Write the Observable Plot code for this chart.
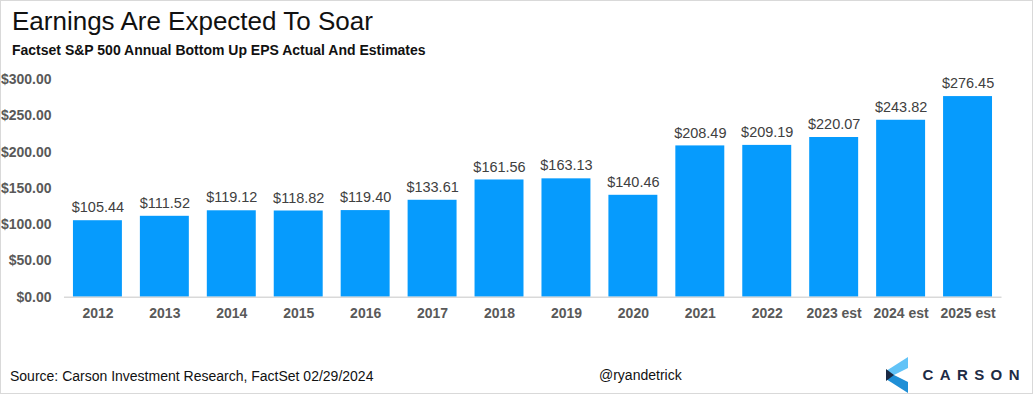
<!DOCTYPE html>
<html>
<head>
<meta charset="utf-8">
<script src="https://cdn.jsdelivr.net/npm/d3@7"></script>
<script src="https://cdn.jsdelivr.net/npm/@observablehq/plot@0.6"></script>
<style>
  html, body { margin: 0; padding: 0; background: #fff; }
  #wrap { position: relative; width: 1033px; height: 394px; box-sizing: border-box; border: 1px solid #d9d9d9; font-family: "Liberation Sans", Arial, sans-serif; overflow: hidden; }
  #title { position: absolute; left: 11px; top: 5px; font-size: 26px; color: #111; white-space: nowrap; }
  #subtitle { position: absolute; left: 11px; top: 41px; font-size: 14px; font-weight: bold; color: #111; white-space: nowrap; }
  #chart { position: absolute; left: -1px; top: 59px; }
  #source { position: absolute; left: 9px; top: 367px; font-size: 14px; color: #111; white-space: nowrap; }
  #handle { position: absolute; left: 598px; top: 366px; font-size: 14px; color: #111; white-space: nowrap; }
  #logo { position: absolute; left: 884px; top: 356px; }
</style>
</head>
<body>
<div id="wrap">
  <div id="title">Earnings Are Expected To Soar</div>
  <div id="subtitle">Factset S&amp;P 500 Annual Bottom Up EPS Actual And Estimates</div>
  <div id="chart"></div>
  <div id="source">Source: Carson Investment Research, FactSet 02/29/2024</div>
  <div id="handle">@ryandetrick</div>
  <svg id="logo" width="145" height="36" viewBox="0 0 145 36">
    <polygon points="23,0 23,11 9,18 1,14" fill="#62c3f7"/>
    <polygon points="1,14 9,18 23,25 23,36 1,22" fill="#1f8fd6"/>
    <polygon points="1,12 9,18 1,24" fill="#1b2a44"/>
    <text x="37.5" y="23" font-family="Liberation Sans, Arial, sans-serif" font-size="15" font-weight="bold" letter-spacing="6.4" fill="#1d2b45">CARSON</text>
  </svg>
</div>
<script>
const years = ["2012","2013","2014","2015","2016","2017","2018","2019","2020","2021","2022","2023 est","2024 est","2025 est"];
const eps = [105.44,111.52,119.12,118.82,119.40,133.61,161.56,163.13,140.46,208.49,209.19,220.07,243.82,276.45];
const yTicks = [0,50,100,150,200,250,300];

const data = years.map((y, i) => ({year: y, eps: eps[i]}));
const fmt = v => "$" + v.toFixed(2);

const chart = Plot.plot({
  width: 1033,
  height: 262,
  marginLeft: 64,
  marginRight: 30.5,
  marginTop: 19,
  marginBottom: 25,
  style: {fontFamily: "Liberation Sans, Arial, sans-serif", background: "transparent", overflow: "visible"},
  x: {domain: years, paddingInner: 0.27, paddingOuter: 0.135, label: null},
  y: {domain: [0, 300], label: null},
  marks: [
    Plot.barY(data, {x: "year", y: "eps", fill: "#069bfd"}),
    Plot.ruleY([0], {stroke: "#d9d9d9", strokeWidth: 1.5}),
    Plot.text(data, {x: "year", y: "eps", text: d => fmt(d.eps), dy: -13, fontSize: 14.5, fill: "#404040"}),
    Plot.axisY({ticks: yTicks, tickFormat: fmt, tickSize: 0, tickPadding: 13, fontSize: 14, fontWeight: "bold", fill: "#595959", label: null}),
    Plot.axisX({tickSize: 0, tickPadding: 11, fontSize: 14, fontWeight: "bold", fill: "#595959", label: null})
  ]
});
document.getElementById("chart").appendChild(chart);
</script>
</body>
</html>
